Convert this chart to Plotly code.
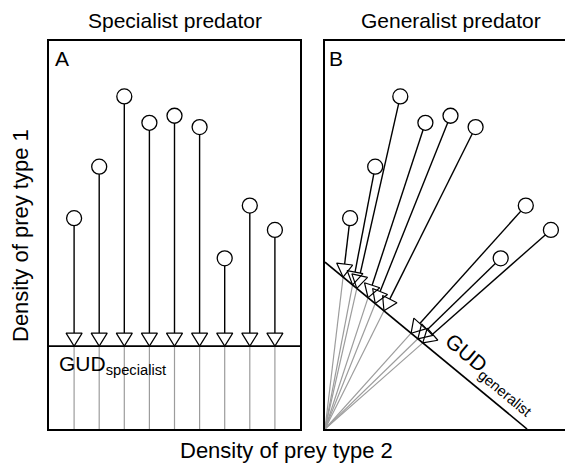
import numpy as np
import plotly.graph_objects as go

# prey patches (the same patches are shown in both panels)
prey2 = [1, 2, 3, 4, 5, 6, 7, 8, 9]                                  # density of prey type 2
prey1 = [8.4, 10.45, 13.25, 12.2, 12.48, 12.03, 6.8, 8.9, 7.93]      # density of prey type 1

gud_specialist = 3.3        # giving-up density, specialist (prey type 1 only)
gud_gen_x = 8.05            # generalist GUD line intercepts
gud_gen_y = 6.65

panel_titles = ["Specialist predator", "Generalist predator"]
panel_letters = ["A", "B"]

# geometry / style
OFF = 8                     # page body margin, figure sits at (8, 8)
W, H = 573 - OFF, 463 - OFF
TRI_H, TRI_W = 0.52, 0.32   # arrow head height and half width (data units)
GREY = "#9c9c9c"


def seg_trace(segs, color, width, xa, ya):
    xs, ys = [], []
    for (x0, y0), (x1, y1) in segs:
        xs += [x0, x1, None]
        ys += [y0, y1, None]
    return go.Scatter(x=xs, y=ys, mode="lines", line=dict(color=color, width=width),
                      hoverinfo="skip", showlegend=False, xaxis=xa, yaxis=ya)


def tri_trace(tips, dirs, xa, ya):
    xs, ys = [], []
    for tip, d in zip(tips, dirs):
        tip = np.asarray(tip, float)
        d = np.asarray(d, float)
        base = tip - d * TRI_H
        perp = np.array([-d[1], d[0]])
        v1 = base + perp * TRI_W
        v2 = base - perp * TRI_W
        xs += [tip[0], v1[0], v2[0], tip[0], None]
        ys += [tip[1], v1[1], v2[1], tip[1], None]
    return go.Scatter(x=xs, y=ys, mode="lines", fill="toself", fillcolor="white",
                      line=dict(color="black", width=1.2),
                      hoverinfo="skip", showlegend=False, xaxis=xa, yaxis=ya)


def circle_trace(xa, ya):
    return go.Scatter(x=prey2, y=prey1, mode="markers",
                      marker=dict(symbol="circle", size=15, color="white",
                                  line=dict(color="black", width=1.3)),
                      hoverinfo="skip", showlegend=False, xaxis=xa, yaxis=ya)


def px(x):
    return (x - OFF) / W


def py(y):
    return 1 - (y - OFF) / H


fig = go.Figure()

# ---- panel A: specialist only sees prey type 1
tips_a = [(x, gud_specialist) for x in prey2]
dirs_a = [(0, -1)] * len(prey2)
fig.add_trace(seg_trace([((x, gud_specialist), (x, 0)) for x in prey2], GREY, 1.2, "x", "y"))
fig.add_trace(seg_trace([((0, gud_specialist), (20, gud_specialist))], "black", 1.6, "x", "y"))
fig.add_trace(seg_trace([((x, y), (x, gud_specialist + TRI_H)) for x, y in zip(prey2, prey1)],
                        "black", 1.4, "x", "y"))
fig.add_trace(tri_trace(tips_a, dirs_a, "x", "y"))
fig.add_trace(circle_trace("x", "y"))

# ---- panel B: generalist depletes both prey types along a ray to the origin
tips_b, dirs_b, stems_b, greys_b = [], [], [], []
for x, y in zip(prey2, prey1):
    t = 1.0 / (x / gud_gen_x + y / gud_gen_y)
    ix, iy = t * x, t * y
    n = np.hypot(x, y)
    d = (-x / n, -y / n)
    tips_b.append((ix, iy))
    dirs_b.append(d)
    stems_b.append(((x, y), (ix - d[0] * TRI_H, iy - d[1] * TRI_H)))
    greys_b.append(((0, 0), (ix, iy)))
fig.add_trace(seg_trace(greys_b, GREY, 1.2, "x2", "y2"))
fig.add_trace(seg_trace([((0, gud_gen_y), (gud_gen_x, 0))], "black", 1.6, "x2", "y2"))
fig.add_trace(seg_trace(stems_b, "black", 1.4, "x2", "y2"))
fig.add_trace(tri_trace(tips_b, dirs_b, "x2", "y2"))
fig.add_trace(circle_trace("x2", "y2"))

# panel boxes (page pixels)
left_a, right_a, left_b = 49, 300, 325
top, bottom = 41, 429
u = (right_a - left_a) / 10.0
ydom = [py(bottom), py(top)]
y_max = (bottom - top) / u

ax = dict(showgrid=False, zeroline=False, showticklabels=False, ticks="",
          showline=True, linecolor="black", linewidth=1.6, fixedrange=True)
fig.update_layout(
    width=W, height=H,
    margin=dict(l=0, r=0, t=0, b=0),
    paper_bgcolor="white", plot_bgcolor="white",
    showlegend=False,
    font=dict(family="Liberation Sans, Arial, sans-serif", color="black"),
    xaxis=dict(ax, domain=[px(left_a), px(right_a)], range=[0, 10], mirror=True),
    yaxis=dict(ax, domain=ydom, range=[0, y_max], mirror=True),
    xaxis2=dict(ax, domain=[px(left_b), 1], range=[0, (573 - left_b) / u], mirror=True,
                anchor="y2"),
    yaxis2=dict(ax, domain=ydom, range=[0, y_max], mirror=False, anchor="x2"),
)

ann = []
title_x = [(left_a + right_a) / 2, left_b + (right_a - left_a) / 2]
for tx, title in zip(title_x, panel_titles):
    ann.append(dict(x=px(tx), y=py(20), xref="paper", yref="paper", text=title,
                    showarrow=False, font=dict(size=21), xanchor="center", yanchor="middle"))
for lx, letter in zip([left_a + 4, left_b + 2], panel_letters):
    ann.append(dict(x=px(lx), y=py(58), xref="paper", yref="paper", text=letter,
                    showarrow=False, font=dict(size=21), xanchor="left", yanchor="middle"))
ann.append(dict(x=px(286), y=py(450), xref="paper", yref="paper",
                text="Density of prey type 2", showarrow=False, font=dict(size=22),
                xanchor="center", yanchor="middle"))
ann.append(dict(x=px(20), y=py(236), xref="paper", yref="paper",
                text="Density of prey type 1", showarrow=False, font=dict(size=22),
                textangle=-90, xanchor="center", yanchor="middle"))
ann.append(dict(x=px(57), y=py(350), xref="paper", yref="paper",
                text="GUD<sub>specialist</sub>", showarrow=False, font=dict(size=21),
                xanchor="left", yanchor="top"))
ang = np.degrees(np.arctan2(gud_gen_y, gud_gen_x))
ann.append(dict(x=px(490), y=py(374), xref="paper", yref="paper",
                text="GUD<sub>generalist</sub>", showarrow=False, font=dict(size=21),
                textangle=ang, xanchor="center", yanchor="middle"))
fig.update_layout(annotations=ann)

fig.write_html("out.html")
